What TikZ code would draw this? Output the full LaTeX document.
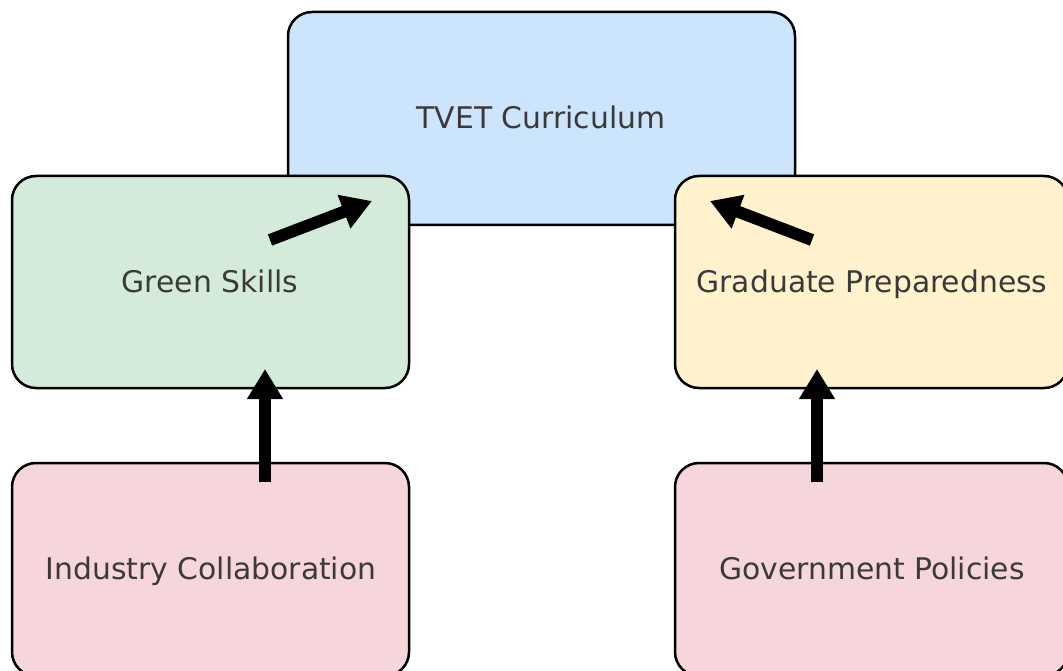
\documentclass[tikz,border=0pt]{standalone}
\usepackage{fontspec}
\setmainfont{DejaVu Sans}
\usetikzlibrary{arrows.meta}
\definecolor{cblue}{HTML}{CCE5FC}
\definecolor{cgreen}{HTML}{D5EBD9}
\definecolor{cyellow}{HTML}{FFF2CC}
\definecolor{cpink}{HTML}{F7D6DB}
\definecolor{ctext}{HTML}{3A3A3A}
\tikzset{
  box/.style={draw=black, line width=2.5pt, rounded corners=24pt},
  lbl/.style={text=ctext, font=\fontsize{29.8}{34}\selectfont, inner sep=0pt, text height=0.74em, text depth=0.24em},
  bigarrow/.style={line width=12pt, -{Triangle[length=30pt,width=34pt]}, black}
}
\begin{document}
\begin{tikzpicture}[x=1pt,y=-1pt]
\useasboundingbox (0,0) rectangle (1063,671);
% boxes
\draw[box, fill=cblue] (288,12) rectangle (795,225);
\node[lbl] (tvet) at (541,126) {TVET Curriculum};
\draw[box, fill=cgreen] (12,176) rectangle (409,388);
\node[lbl] (green) at (210,290) {Green Skills};
\draw[box, fill=cyellow] (675,176) rectangle (1068,388);
\node[lbl] (grad) at (872,290) {Graduate Preparedness};
\draw[box, fill=cpink] (12,463) rectangle (409,676);
\node[lbl] (ind) at (211,577) {Industry Collaboration};
\draw[box, fill=cpink] (675,463) rectangle (1068,676);
\node[lbl] (gov) at (872,577) {Government Policies};
% arrow endpoints
\coordinate (a1s) at (270,240);
\coordinate (a1e) at (372,201);
\coordinate (a2s) at (812,240);
\coordinate (a2e) at (710,201);
\coordinate (a3s) at (265,482);
\coordinate (a3e) at (265,369);
\coordinate (a4s) at (817,482);
\coordinate (a4e) at (817,369);
\draw[bigarrow] (a1s) -- (a1e);
\draw[bigarrow] (a2s) -- (a2e);
\draw[bigarrow] (a3s) -- (a3e);
\draw[bigarrow] (a4s) -- (a4e);
\end{tikzpicture}
\end{document}
